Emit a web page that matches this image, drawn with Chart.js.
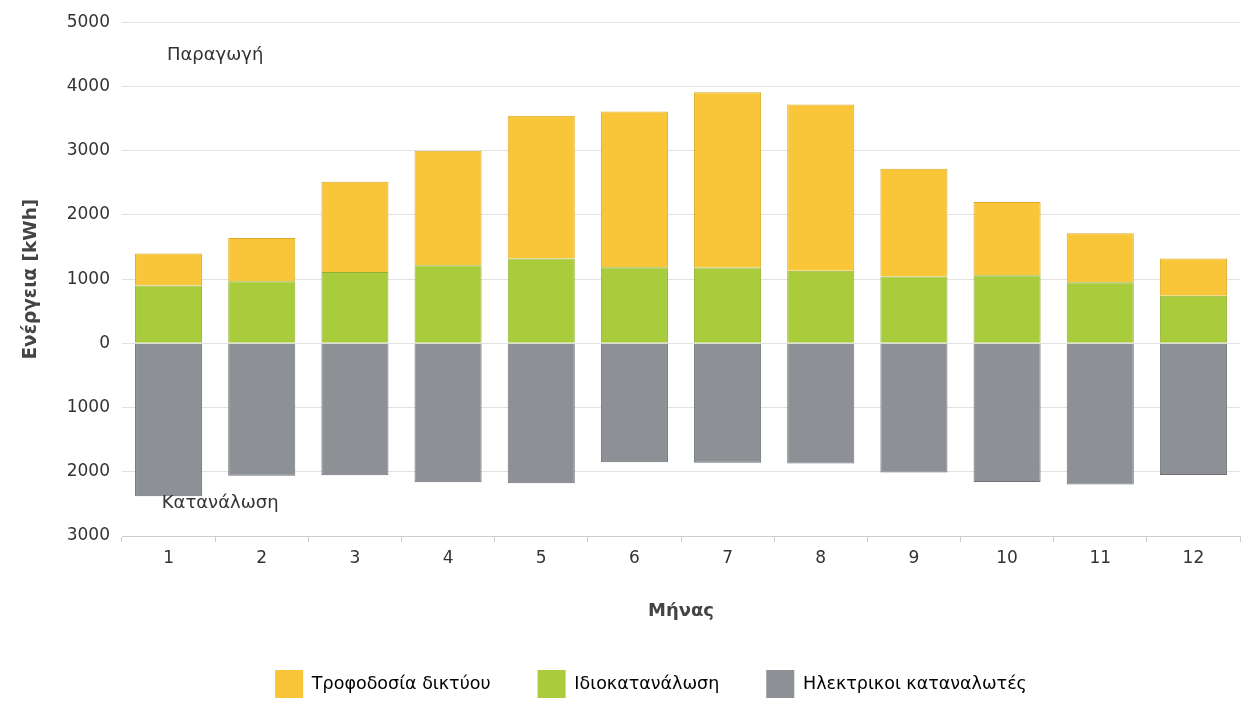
<!DOCTYPE html>
<html>
<head>
<meta charset="utf-8">
<script src="https://cdn.jsdelivr.net/npm/chart.js@4.4.0/dist/chart.umd.min.js"></script>
<style>
html,body{margin:0;padding:0;background:#fff;}
#wrap{width:1242px;height:702px;position:relative;}
</style>
</head>
<body>
<div id="wrap"><canvas id="c" width="1242" height="702"></canvas></div>
<script>
const months = ['1','2','3','4','5','6','7','8','9','10','11','12'];
const selfConsumption = [902, 965, 1110, 1215, 1320, 1185, 1180, 1130, 1040, 1060, 950, 740];
const gridFeedIn = [498, 675, 1405, 1785, 2225, 2425, 2730, 2590, 1680, 1140, 765, 580];
const consumers = [-2380, -2060, -2055, -2165, -2180, -1850, -1860, -1870, -2010, -2160, -2200, -2050];
const seriesNames = ['Τροφοδοσία δικτύου', 'Ιδιοκατανάλωση', 'Ηλεκτρικοι καταναλωτές'];
const yTitle = 'Ενέργεια [kWh]';
const xTitle = 'Μήνας';
const labelTop = 'Παραγωγή';
const labelBottom = 'Κατανάλωση';

const FONT = "'DejaVu Sans', Verdana, sans-serif";

const annotate = {
  id: 'annotate',
  afterDatasetsDraw(chart) {
    const {ctx, scales} = chart;
    const x = scales.x.getPixelForValue(0) + scales.x.width / 24;
    ctx.save();
    ctx.font = '18px ' + FONT;
    ctx.fillStyle = '#333';
    ctx.textAlign = 'center';
    ctx.textBaseline = 'middle';
    ctx.fillText(labelTop, x, scales.y.getPixelForValue(4480));
    ctx.fillText(labelBottom, x + 5, scales.y.getPixelForValue(-2490));
    ctx.restore();
  }
};

new Chart(document.getElementById('c'), {
  type: 'bar',
  data: {
    labels: months,
    datasets: [
      {label: seriesNames[0], data: gridFeedIn, backgroundColor: '#F9C63A', borderColor: '#DDAA2A', borderWidth: 1, stack: 's', order: 2},
      {label: seriesNames[1], data: selfConsumption, backgroundColor: '#A9CC3C', borderColor: '#93B034', borderWidth: 1, stack: 's', order: 1},
      {label: seriesNames[2], data: consumers, backgroundColor: '#8D9196', borderColor: '#6E7176', borderWidth: 1, stack: 's', order: 3}
    ]
  },
  options: {
    responsive: false,
    animation: false,
    layout: {padding: {top: 12, right: 2, left: 62, bottom: -6}},
    plugins: {
      tooltip: {enabled: false},
      legend: {
        position: 'bottom',
        labels: {
          font: {size: 17.5, family: FONT},
          color: '#333',
          boxWidth: 28,
          boxHeight: 28,
          padding: 47,
          generateLabels(chart) {
            return chart.data.datasets.map((d, i) => ({
              text: d.label, fillStyle: d.backgroundColor, strokeStyle: d.backgroundColor,
              lineWidth: 0, datasetIndex: i, hidden: false
            }));
          }
        }
      }
    },
    scales: {
      x: {
        stacked: true,
        categoryPercentage: 1,
        barPercentage: 0.66,
        grid: {display: true, offset: true, drawOnChartArea: false, drawTicks: true, tickLength: 6, color: '#ccc'},
        border: {display: true, color: '#ccc'},
        ticks: {font: {size: 17, family: FONT}, color: '#333', padding: 6},
        title: {display: true, text: xTitle, font: {size: 18, weight: 'bold', family: FONT}, color: '#444', padding: {top: 26, bottom: 1}}
      },
      y: {
        stacked: true,
        min: -3000,
        max: 5000,
        afterFit(scale) { scale.width = 60; },
        ticks: {stepSize: 1000, font: {size: 17, family: FONT}, color: '#333', padding: 12, callback: v => Math.abs(v)},
        grid: {color: '#e2e2e2', drawTicks: false},
        border: {display: false},
        title: {display: true, text: yTitle, font: {size: 18.5, weight: 'bold', family: FONT}, color: '#444', padding: {top: -42, bottom: 4}}
      }
    }
  },
  plugins: [annotate]
});
</script>
</body>
</html>
